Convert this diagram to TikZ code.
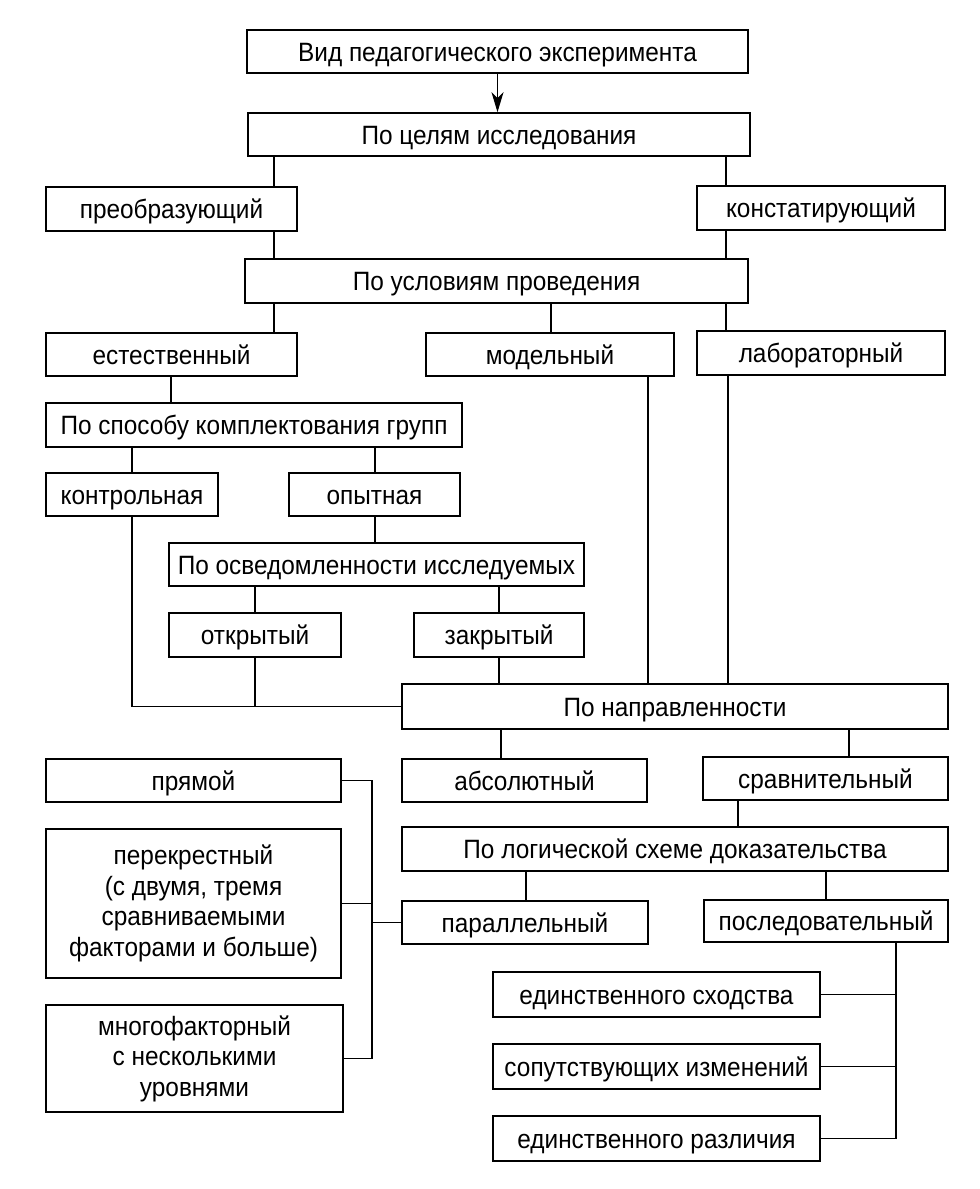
\documentclass[tikz,border=0pt]{standalone}
\usepackage{fontspec}
\setmainfont{Liberation Sans}[FakeStretch=0.92]
\usetikzlibrary{arrows.meta}
\newcommand\bx[6]{\node[box, minimum width={#4-#2}, minimum height={#5-#3}] (#1) at ({(#2+#4)/2},{(#3+#5)/2}) {#6};}
\newcommand\mbx[6]{\node[mbox, minimum width={#4-#2}, minimum height={#5-#3}] (#1) at ({(#2+#4)/2},{(#3+#5)/2}) {#6};}
\newcommand\vc[3]{\draw[conn] (#1.south -| #2) -- (#3.north -| #2);}
\begin{document}
\begin{tikzpicture}[x=1pt,y=-1pt,
 mbox/.style={draw, line width=1.6pt, inner sep=0pt, align=center, font=\fontsize{26.5}{30.5}\selectfont},
 box/.style={mbox, text height=19pt, text depth=0pt},
 conn/.style={line width=1.1pt}]
\useasboundingbox[fill=white] (0,0) rectangle (980,1189);
\bx{b1}{247}{30}{748}{73}{Вид педагогического эксперимента}
\bx{b2}{248}{113}{750}{156}{По целям исследования}
\bx{pr}{46}{187}{297}{231}{преобразующий}
\bx{ko}{697}{186}{945}{230}{констатирующий}
\bx{b3}{245}{259}{748}{303}{По условиям проведения}
\bx{est}{46}{333}{297}{376}{естественный}
\bx{mod}{426}{333}{674}{376}{модельный}
\bx{lab}{697}{331}{945}{375}{лабораторный}
\bx{b4}{46}{403}{462}{447}{По способу комплектования групп}
\bx{kon}{46}{473}{218}{516}{контрольная}
\bx{op}{289}{473}{460}{516}{опытная}
\bx{b5}{169}{543}{584}{586}{По осведомленности исследуемых}
\bx{otk}{169}{613}{341}{657}{открытый}
\bx{zak}{414}{613}{584}{657}{закрытый}
\bx{b6}{402}{684}{948}{729}{По направленности}
\bx{abs}{402}{759}{647}{802}{абсолютный}
\bx{srav}{703}{757}{948}{800}{сравнительный}
\bx{b7}{402}{827}{948}{871}{По логической схеме доказательства}
\bx{par}{402}{901}{648}{944}{параллельный}
\bx{posl}{704}{900}{948}{942}{последовательный}
\bx{pryam}{46}{759}{341}{802}{прямой}
\mbx{perek}{46}{829}{341}{978}{перекрестный\\(с двумя, тремя\\сравниваемыми\\факторами и больше)}
\mbx{mnog}{46}{1005}{343}{1112}{многофакторный\\с несколькими\\уровнями}
\bx{skh}{493}{972}{820}{1017}{единственного сходства}
\bx{sop}{493}{1044}{820}{1089}{сопутствующих изменений}
\bx{razl}{493}{1116}{820}{1161}{единственного различия}
% x positions of connectors
\coordinate (X274) at (274,0);
\coordinate (X726) at (726,0);
\coordinate (X551) at (551,0);
\coordinate (X171) at (171,0);
\coordinate (X132) at (132,0);
\coordinate (X375) at (375,0);
\coordinate (X255) at (255,0);
\coordinate (X499) at (499,0);
\coordinate (X648) at (648,0);
\coordinate (X728) at (728,0);
\coordinate (X501) at (501,0);
\coordinate (X849) at (849,0);
\coordinate (X738) at (738,0);
\coordinate (X526) at (526,0);
\coordinate (X826) at (826,0);
\coordinate (X372) at (372,0);
\coordinate (X896) at (896,0);
% connectors
\draw[conn,-{Stealth[length=20pt,width=12pt,inset=6pt]}] (b1.south) -- (b1.south |- b2.north);
\vc{b2}{X274}{pr}
\vc{b2}{X726}{ko}
\vc{pr}{X274}{b3}
\vc{ko}{X726}{b3}
\vc{b3}{X274}{est}
\vc{b3}{X551}{mod}
\vc{b3}{X726}{lab}
\vc{est}{X171}{b4}
\vc{b4}{X132}{kon}
\vc{b4}{X375}{op}
\vc{op}{X375}{b5}
\vc{b5}{X255}{otk}
\vc{b5}{X499}{zak}
\vc{zak}{X499}{b6}
\vc{mod}{X648}{b6}
\vc{lab}{X728}{b6}
\draw[conn] (kon.south -| X132) |- (b6.west);
\draw[conn] (otk.south -| X255) -- (X255 |- b6.west);
\vc{b6}{X501}{abs}
\vc{b6}{X849}{srav}
\vc{srav}{X738}{b7}
\vc{b7}{X526}{par}
\vc{b7}{X826}{posl}
% left bracket
\draw[conn] (pryam.east) -| (X372 |- mnog.east) -- (mnog.east);
\draw[conn] (perek.east) -- (perek.east -| X372);
\draw[conn] (par.west) -- (par.west -| X372);
% right bracket
\draw[conn] (posl.south -| X896) |- (razl.east);
\draw[conn] (skh.east) -- (skh.east -| X896);
\draw[conn] (sop.east) -- (sop.east -| X896);
\end{tikzpicture}
\end{document}
